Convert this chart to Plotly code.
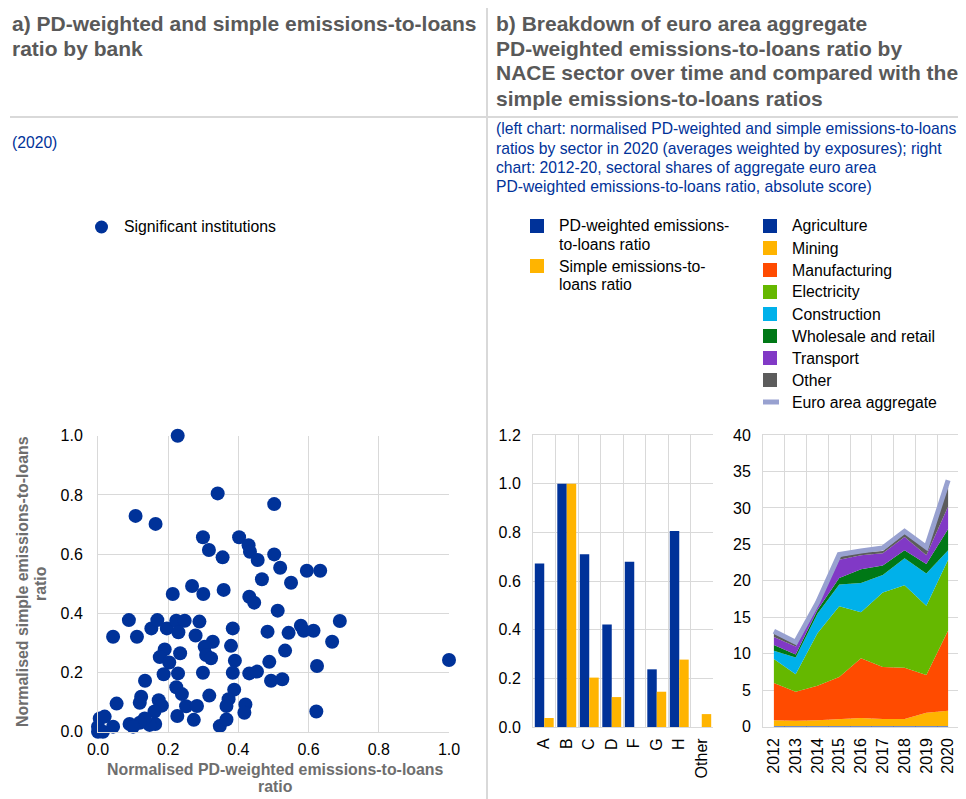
import plotly.graph_objects as go

W, H = 966, 799
OFF = 8  # page body margin in the browser: positions below are page pixels

# ---------------- data ----------------
# Panel a) scatter: normalised PD-weighted (x) vs simple (y) emissions-to-loans ratio
pd_weighted = [0.227, 0.341, 0.107, 0.164, 0.502, 0.299, 0.316, 0.355, 0.402, 0.429, 0.433, 0.455,
               0.502, 0.519, 0.595, 0.633, 0.213, 0.268, 0.300, 0.358, 0.431, 0.445, 0.467, 0.550,
               0.512, 0.088, 0.043, 0.111, 0.152, 0.169, 0.196, 0.223, 0.247, 0.229, 0.289, 0.278,
               0.384, 0.327, 0.304, 0.308, 0.322, 0.379, 0.483, 0.543, 0.578, 0.586, 0.614, 0.689,
               0.667, 0.533, 0.190, 0.176, 0.203, 0.234, 0.390, 0.488, 0.624, 1.000, 0.187, 0.228,
               0.299, 0.384, 0.431, 0.453, 0.493, 0.525, 0.134, 0.123, 0.119, 0.053, 0.173, 0.182,
               0.223, 0.239, 0.317, 0.388, 0.372, 0.366, 0.420, 0.417, 0.622, 0.251, 0.282, 0.226,
               0.273, 0.347, 0.366, 0.161, 0.163, 0.147, 0.133, 0.119, 0.090, 0.100, 0.005, 0.019,
               0.000, 0.043, 0.014, 0.000]
simple = [1.000, 0.805, 0.729, 0.702, 0.769, 0.657, 0.614, 0.589, 0.657, 0.630, 0.608, 0.580,
          0.599, 0.554, 0.544, 0.544, 0.465, 0.492, 0.465, 0.479, 0.456, 0.436, 0.515, 0.503,
          0.409, 0.377, 0.321, 0.321, 0.349, 0.377, 0.349, 0.375, 0.375, 0.336, 0.372, 0.325,
          0.349, 0.304, 0.287, 0.259, 0.248, 0.290, 0.338, 0.334, 0.358, 0.341, 0.341, 0.374,
          0.304, 0.274, 0.278, 0.252, 0.234, 0.265, 0.240, 0.236, 0.222, 0.242, 0.194, 0.197,
          0.199, 0.199, 0.197, 0.203, 0.172, 0.177, 0.172, 0.118, 0.098, 0.095, 0.106, 0.088,
          0.150, 0.127, 0.122, 0.142, 0.110, 0.087, 0.092, 0.064, 0.068, 0.086, 0.087, 0.053,
          0.040, 0.019, 0.041, 0.068, 0.026, 0.023, 0.045, 0.030, 0.026, 0.017, 0.045, 0.051,
          0.017, 0.017, 0.000, 0.000]

# Panel b) left: sector bars (2020)
sectors = ["A", "B", "C", "D", "F", "G", "H", "Other"]
pd_weighted_sector = [0.672, 1.000, 0.710, 0.421, 0.679, 0.237, 0.805, 0.0]
simple_sector = [0.037, 1.000, 0.203, 0.123, 0.0, 0.145, 0.277, 0.053]

# Panel b) right: stacked sectoral shares 2012-20
years = ["2012", "2013", "2014", "2015", "2016", "2017", "2018", "2019", "2020"]
agriculture = [0.1, 0.1, 0.1, 0.1, 0.1, 0.1, 0.1, 0.1, 0.1]
mining = [0.8, 0.7, 0.8, 0.95, 1.1, 0.95, 0.95, 1.8, 2.1]
manufacturing = [5.1, 4.0, 4.7, 5.75, 8.2, 7.15, 7.05, 5.2, 11.0]
electricity = [3.3, 2.4, 7.2, 9.7, 6.3, 10.2, 11.3, 9.5, 9.7]
construction = [1.1, 2.3, 2.7, 3.0, 4.0, 2.4, 3.7, 4.4, 1.3]
wholesale = [0.8, 0.4, 0.5, 0.9, 1.9, 1.3, 1.1, 1.3, 2.9]
transport = [1.1, 1.1, 0.5, 2.5, 1.9, 1.7, 1.8, 1.2, 3.1]
other = [0.5, 0.3, 0.2, 0.4, 0.4, 0.3, 0.5, 1.0, 2.7]
euro_area = [13.1, 11.6, 17.0, 23.6, 24.1, 24.5, 26.8, 24.6, 33.8]

area_series = [
    ("Agriculture", agriculture, "#003299"),
    ("Mining", mining, "#FFB400"),
    ("Manufacturing", manufacturing, "#FF4B00"),
    ("Electricity", electricity, "#65B800"),
    ("Construction", construction, "#00B1EA"),
    ("Wholesale and retail", wholesale, "#007816"),
    ("Transport", transport, "#8139C6"),
    ("Other", other, "#5C5C5C"),
]
EA_COLOR = "#98A1D0"
BLUE = "#003299"
YELLOW = "#FFB400"
GRID = "#D9D9D9"
FONT = "Liberation Sans, Arial, sans-serif"


def px(x):
    return (x - OFF) / W


def py(y):
    return 1 - (y - OFF) / H


fig = go.Figure()

# scatter
fig.add_trace(go.Scatter(x=pd_weighted, y=simple, mode="markers", name="Significant institutions",
                         marker=dict(color=BLUE, size=14, line=dict(width=0)),
                         cliponaxis=False, showlegend=False, xaxis="x", yaxis="y"))

# bars
fig.add_trace(go.Bar(x=sectors, y=pd_weighted_sector, name="PD-weighted emissions-to-loans ratio",
                     marker=dict(color=BLUE, line=dict(width=0)), showlegend=False,
                     xaxis="x2", yaxis="y2"))
fig.add_trace(go.Bar(x=sectors, y=simple_sector, name="Simple emissions-to-loans ratio",
                     marker=dict(color=YELLOW, line=dict(width=0)), showlegend=False,
                     xaxis="x2", yaxis="y2"))

# stacked areas
for name, vals, col in area_series:
    fig.add_trace(go.Scatter(x=years, y=vals, name=name, mode="lines", stackgroup="one",
                             line=dict(width=0, color=col), fillcolor=col, showlegend=False,
                             xaxis="x3", yaxis="y3"))
fig.add_trace(go.Scatter(x=years, y=euro_area, name="Euro area aggregate", mode="lines",
                         line=dict(width=5, color=EA_COLOR), cliponaxis=False, showlegend=False,
                         xaxis="x3", yaxis="y3"))

tickfont = dict(family=FONT, size=16, color="#000000")

layout = dict(
    width=W, height=H, autosize=False,
    margin=dict(l=0, r=0, t=0, b=0, pad=0, autoexpand=False),
    paper_bgcolor="white", plot_bgcolor="white", showlegend=False,
    font=dict(family=FONT, size=16, color="#000000"),
    barmode="group", bargap=0.16, bargroupgap=0,
    xaxis=dict(domain=[px(98), px(449)], range=[0, 1.0], tickvals=[0, 0.2, 0.4, 0.6, 0.8, 1.0],
               tickformat=".1f", showgrid=True, gridcolor=GRID, gridwidth=1, zeroline=False,
               showline=True, linecolor=GRID, linewidth=1, tickfont=tickfont, ticks="", ticklabelstandoff=3,
               automargin=False, anchor="y"),
    yaxis=dict(domain=[py(731.7), py(435.7)], range=[0, 1.0], tickvals=[0, 0.2, 0.4, 0.6, 0.8, 1.0],
               tickformat=".1f", showgrid=True, gridcolor=GRID, gridwidth=1, zeroline=False,
               showline=True, linecolor=GRID, linewidth=1, tickfont=tickfont, ticks="", ticklabelstandoff=11,
               automargin=False, anchor="x"),
    xaxis2=dict(domain=[px(533), px(713)], type="category", tickson="boundaries", tickangle=-90,
                showgrid=True, gridcolor=GRID, gridwidth=1, showline=True, linecolor=GRID, mirror=True,
                tickfont=tickfont, ticks="", ticklabelstandoff=4, automargin=False, anchor="y2"),
    yaxis2=dict(domain=[py(727), py(435)], range=[0, 1.2], tickvals=[0, 0.2, 0.4, 0.6, 0.8, 1.0, 1.2],
                tickformat=".1f", showgrid=True, gridcolor=GRID, zeroline=False, showline=True,
                linecolor=GRID, tickfont=tickfont, ticks="", ticklabelstandoff=8, automargin=False,
                anchor="x2"),
    xaxis3=dict(domain=[px(763), px(959)], type="category", range=[-0.5, 8.5], tickson="boundaries",
                tickangle=-90, showgrid=True, gridcolor=GRID, gridwidth=1, showline=True, linecolor=GRID,
                mirror=True, tickfont=tickfont, ticks="", ticklabelstandoff=4, automargin=False,
                anchor="y3"),
    yaxis3=dict(domain=[py(726.7), py(435)], range=[0, 40], tickvals=list(range(0, 41, 5)),
                showgrid=True, gridcolor=GRID, zeroline=False, showline=True, linecolor=GRID,
                tickfont=tickfont, ticks="", ticklabelstandoff=8, automargin=False, anchor="x3"),
)

annotations = []
shapes = []


def text(x, y, s, size=15.8, color="#000000", bold=False, xanchor="left", yanchor="middle", angle=0,
         align="left"):
    if bold:
        s = "<b>" + s + "</b>"
    annotations.append(dict(x=px(x), y=py(y), xref="paper", yref="paper", text=s, showarrow=False,
                            xanchor=xanchor, yanchor=yanchor, align=align, textangle=angle,
                            font=dict(family=FONT, size=size, color=color)))


TITLE = "#595959"
SUB = "#003299"
for yy, line in zip([23, 48], ["a) PD-weighted and simple emissions-to-loans", "ratio by bank"]):
    text(10, yy, line, size=21.0, color=TITLE, bold=True)
for yy, line in zip([23, 48, 73, 98], ["b) Breakdown of euro area aggregate",
                                       "PD-weighted emissions-to-loans ratio by",
                                       "NACE sector over time and compared with the",
                                       "simple emissions-to-loans ratios"]):
    text(494, yy, line, size=21.0, color=TITLE, bold=True)
text(10, 142, "(2020)", size=15.7, color=SUB)
for yy, line in zip([129, 148, 167, 186], [
        "(left chart: normalised PD-weighted and simple emissions-to-loans",
        "ratios by sector in 2020 (averages weighted by exposures); right",
        "chart: 2012-20, sectoral shares of aggregate euro area",
        "PD-weighted emissions-to-loans ratio, absolute score)"]):
    text(494, yy, line, size=15.7, color=SUB)

# separators
shapes.append(dict(type="line", xref="paper", yref="paper", x0=px(10), x1=px(974), y0=py(117), y1=py(117),
                   line=dict(color=GRID, width=2)))
shapes.append(dict(type="line", xref="paper", yref="paper", x0=px(487), x1=px(487), y0=py(3), y1=py(807),
                   line=dict(color=GRID, width=2)))

# legend a)
shapes.append(dict(type="circle", xref="paper", yref="paper", x0=px(95), x1=px(108), y0=py(233.5),
                   y1=py(220.5), fillcolor=BLUE, line=dict(width=0)))
text(122, 227, "Significant institutions")

# legend b) bars
for yc, col, lines in [(226, BLUE, ["PD-weighted emissions-", "to-loans ratio"]),
                       (266, YELLOW, ["Simple emissions-to-", "loans ratio"])]:
    shapes.append(dict(type="rect", xref="paper", yref="paper", x0=px(530), x1=px(544), y0=py(yc + 7),
                       y1=py(yc - 7), fillcolor=col, line=dict(width=0)))
    text(557, yc, lines[0])
    text(557, yc + 18, lines[1])

# legend b) areas
yc = 226
for name, vals, col in area_series:
    shapes.append(dict(type="rect", xref="paper", yref="paper", x0=px(763), x1=px(777), y0=py(yc + 7),
                       y1=py(yc - 7), fillcolor=col, line=dict(width=0)))
    text(790, yc, name)
    yc += 22
shapes.append(dict(type="line", xref="paper", yref="paper", x0=px(763), x1=px(779), y0=py(yc), y1=py(yc),
                   line=dict(color=EA_COLOR, width=5)))
text(790, yc, "Euro area aggregate")

# axis titles for scatter
AXT = "#6E6E6E"
text(275, 769, "Normalised PD-weighted emissions-to-loans", size=15.9, color=AXT, bold=True,
     xanchor="center")
text(275, 786, "ratio", size=15.9, color=AXT, bold=True, xanchor="center")
text(22, 582, "Normalised simple emissions-to-loans", size=15.9, color=AXT, bold=True,
     xanchor="center", angle=-90)
text(40, 584, "ratio", size=15.9, color=AXT, bold=True, xanchor="center", angle=-90)

layout["annotations"] = annotations
layout["shapes"] = shapes
fig.update_layout(**layout)
fig.write_html("out.html")
